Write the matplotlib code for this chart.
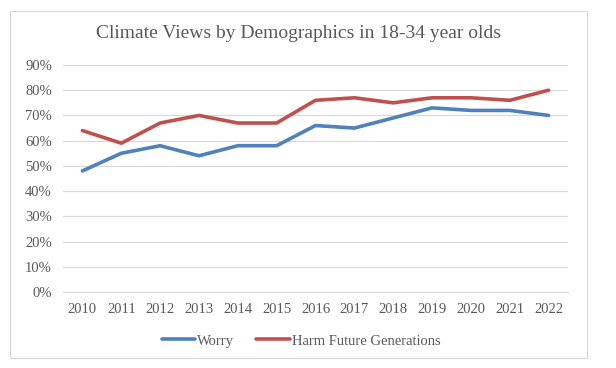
import matplotlib.pyplot as plt
from matplotlib.patches import Rectangle
from matplotlib.ticker import PercentFormatter

years = ['2010', '2011', '2012', '2013', '2014', '2015', '2016',
         '2017', '2018', '2019', '2020', '2021', '2022']
worry = [48, 55, 58, 54, 58, 58, 66, 65, 69, 73, 72, 72, 70]
harm = [64, 59, 67, 70, 67, 67, 76, 77, 75, 77, 77, 76, 80]

grey = '#595959'
plt.rcParams['font.family'] = ['Liberation Serif', 'DejaVu Serif']

fig = plt.figure(figsize=(6.16, 3.68), dpi=100)
fig.patches.append(Rectangle((10 / 616, 1 - 358 / 368), 577 / 616, 347 / 368,
                             transform=fig.transFigure, fill=False,
                             edgecolor='#d9d9d9', linewidth=0.8))

ax = fig.add_axes([63 / 616, 1 - 292 / 368, 505 / 616, 227 / 368])
x = range(len(years))
ax.plot(x, worry, color='#4f81bd', linewidth=2.6, label='Worry',
        solid_capstyle='round')
ax.plot(x, harm, color='#c0504d', linewidth=2.6, label='Harm Future Generations',
        solid_capstyle='round')

ax.set_xlim(-0.5, len(years) - 0.5)
ax.set_ylim(0, 90)
ax.set_yticks(range(0, 91, 10))
ax.yaxis.set_major_formatter(PercentFormatter(decimals=0))
ax.set_xticks(list(x))
ax.set_xticklabels(years)
ax.grid(axis='y', color='#d9d9d9', linewidth=0.9)
ax.set_axisbelow(True)
for s in ['top', 'right', 'left']:
    ax.spines[s].set_visible(False)
ax.spines['bottom'].set_color('#d9d9d9')
ax.tick_params(length=0, colors=grey, labelsize=10.5, pad=8)

fig.text(298 / 616, 1 - 34 / 368, 'Climate Views by Demographics in 18-34 year olds',
         ha='center', va='center', fontsize=14, color=grey)

leg = fig.legend(loc='center', bbox_to_anchor=(301 / 616, 1 - 341 / 368), ncol=2,
                 frameon=False, fontsize=10.5, handlelength=2.3, handletextpad=0.15,
                 columnspacing=1.5)
for t in leg.get_texts():
    t.set_color(grey)

fig.savefig('out.png', dpi=100)
